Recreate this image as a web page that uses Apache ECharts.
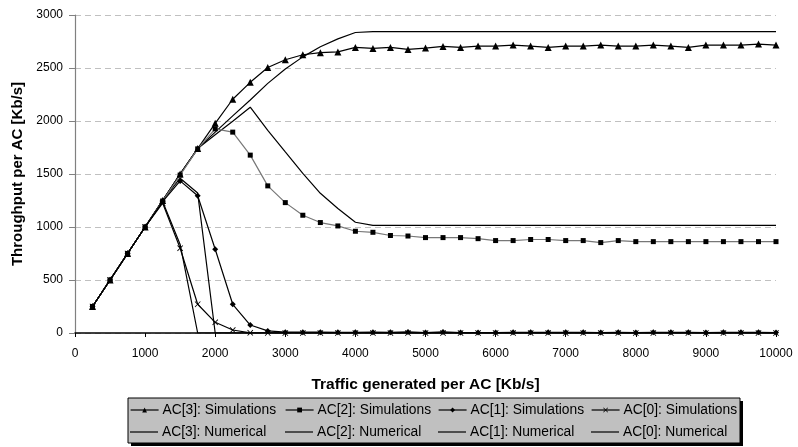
<!DOCTYPE html>
<html>
<head>
<meta charset="utf-8">
<script src="https://cdn.jsdelivr.net/npm/echarts@6/dist/echarts.min.js"></script>
<style>
html,body{margin:0;padding:0;background:#fff;}
#chart{width:798px;height:447px;}
</style>
</head>
<body>
<div id="chart"></div>
<script>
// ---- data ----
var xs = [250,500,750,1000,1250,1500,1750,2000,2250,2500,2750,3000,3250,3500,3750,4000,4250,4500,4750,5000,
          5250,5500,5750,6000,6250,6500,6750,7000,7250,7500,7750,8000,8250,8500,8750,9000,9250,9500,9750,10000];

var ac3Sim = [250,500,750,1000,1250,1500,1740,1978,2205,2365,2505,2578,2625,2645,2652,2694,2685,2694,2675,2688,
              2704,2694,2707,2707,2716,2707,2694,2707,2707,2716,2707,2707,2716,2707,2694,2716,2716,2716,2726,2716];
var ac2Sim = [250,500,750,1000,1245,1490,1737,1926,1895,1678,1388,1230,1111,1042,1010,960,950,920,915,900,
              900,900,890,872,872,882,882,872,872,853,872,862,862,862,862,862,862,862,862,862];
var ac1Sim = [250,500,750,1000,1240,1435,1295,790,271,75,20,8,8,8,6,6,8,6,10,4,
              10,4,4,4,6,6,6,6,6,4,6,4,6,6,6,4,6,6,6,4];
var ac0Sim = [250,500,750,1000,1225,800,271,101,28,2,0,0,0,0,0,0,0,0,0,0,
              0,0,0,0,0,0,0,0,0,0,0,0,0,0,0,0,0,0,0,0];

var ac3Num = [250,500,750,1000,1250,1500,1740,1895,2048,2198,2355,2490,2605,2700,2775,2835,2843,2843,2843,2843,
              2843,2843,2843,2843,2843,2843,2843,2843,2843,2843,2843,2843,2843,2843,2843,2843,2843,2843,2843,2843];
var ac2Num = [250,500,750,1000,1250,1500,1740,1870,1998,2130,1912,1708,1505,1318,1175,1045,1015,1015,1015,1015,
              1015,1015,1015,1015,1015,1015,1015,1015,1015,1015,1015,1015,1015,1015,1015,1015,1015,1015,1015,1015];
var ac1Num = [250,500,750,1000,1250,1460,1320,0,0,0,0,0,0,0,0,0,0,0,0,0,
              0,0,0,0,0,0,0,0,0,0,0,0,0,0,0,0,0,0,0,0];
var ac0Num = [250,500,750,1000,1240,835,0,0,0,0,0,0,0,0,0,0,0,0,0,0,
              0,0,0,0,0,0,0,0,0,0,0,0,0,0,0,0,0,0,0,0];

var seriesNames = ['AC[3]: Simulations','AC[2]: Simulations','AC[1]: Simulations','AC[0]: Simulations',
                   'AC[3]: Numerical','AC[2]: Numerical','AC[1]: Numerical','AC[0]: Numerical'];
var xTicks = {min:0, max:10000, interval:1000};
var yTicks = {min:0, max:3000, interval:500};

// ---- build ----
function pairs(v){ return xs.map(function(x,i){ return [x, v[i]]; }); }
var FONT = '"Liberation Sans", Arial, sans-serif';
var crossPath = 'path://M0,1L1,0L5,4L9,0L10,1L6,5L10,9L9,10L5,6L1,10L0,9L4,5Z';

function simSeries(name, data, symbol, size, lineColor){
  return {name:name, type:'line', data:pairs(data), symbol:symbol, symbolSize:size,
    showSymbol:true, lineStyle:{color:lineColor, width:1.2}, itemStyle:{color:'#000'},
    z:3, silent:true};
}
function numSeries(name, data){
  return {name:name, type:'line', data:pairs(data), symbol:'none', showSymbol:false,
    lineStyle:{color:'#000', width:1.2}, itemStyle:{color:'#000'}, z:2, silent:true};
}

var series = [
  numSeries(seriesNames[4], ac3Num),
  numSeries(seriesNames[5], ac2Num),
  numSeries(seriesNames[6], ac1Num),
  numSeries(seriesNames[7], ac0Num),
  simSeries(seriesNames[0], ac3Sim, 'triangle', 7, '#000'),
  simSeries(seriesNames[1], ac2Sim, 'rect', 5, '#777'),
  simSeries(seriesNames[2], ac1Sim, 'diamond', 6, '#000'),
  simSeries(seriesNames[3], ac0Sim, crossPath, 6, '#000')
];

var colLeft = [130, 285, 438, 591];
var rowTop = [403, 425];
var legends = seriesNames.map(function(n, i){
  var isNum = i >= 4;
  var cfg = {data:[n], left:colLeft[i%4], top:rowTop[Math.floor(i/4)], padding:0,
    itemWidth:28, itemHeight:isNum ? 1.2 : 6, itemGap:0, selectedMode:false,
    lineStyle:{color:'#000', width:1.2},
    itemStyle:{color:'#000'},
    textStyle:{fontFamily:FONT, fontSize:13.8, color:'#000', padding:[0,0,0,-1]}};
  if (isNum) cfg.icon = 'rect';
  return cfg;
});

var noComma = function(v){ return String(v); };

var chart = echarts.init(document.getElementById('chart'), null, {renderer:'canvas'});
chart.setOption({
  animation:false,
  backgroundColor:'#fff',
  grid:{left:75, right:22, top:15, bottom:114, containLabel:false, outerBoundsMode:'none'},
  xAxis:{type:'value', min:xTicks.min, max:xTicks.max, interval:xTicks.interval,
    name:'Traffic generated per AC [Kb/s]', nameLocation:'middle', nameGap:44,
    nameTextStyle:{fontFamily:FONT, fontSize:15.5, fontWeight:'bold', color:'#000'},
    axisLine:{show:true, lineStyle:{color:'#000', width:1.5}},
    axisTick:{show:true, length:4, lineStyle:{color:'#000'}},
    axisLabel:{fontFamily:FONT, fontSize:12, color:'#000', margin:15, formatter:noComma},
    splitLine:{show:false}},
  yAxis:{type:'value', min:yTicks.min, max:yTicks.max, interval:yTicks.interval,
    name:'Throughput per AC [Kb/s]', nameLocation:'middle', nameGap:50,
    nameTextStyle:{fontFamily:FONT, fontSize:15, fontWeight:'bold', color:'#000'},
    axisLine:{show:true, lineStyle:{color:'#808080', width:1.2}},
    axisTick:{show:true, length:6, lineStyle:{color:'#808080'}},
    axisLabel:{fontFamily:FONT, fontSize:12, color:'#000', margin:12, formatter:noComma},
    splitLine:{show:true, lineStyle:{color:'#c0c0c0', type:[6,4], width:1}}},
  graphic:[
    {type:'rect', shape:{x:131, y:401, width:612, height:45}, style:{fill:'#000'}, z:-10},
    {type:'rect', shape:{x:128, y:398, width:612, height:45}, style:{fill:'#c0c0c0', stroke:'#000', lineWidth:1}, z:-9}
  ],
  legend:legends,
  series:series
});
</script>
</body>
</html>
